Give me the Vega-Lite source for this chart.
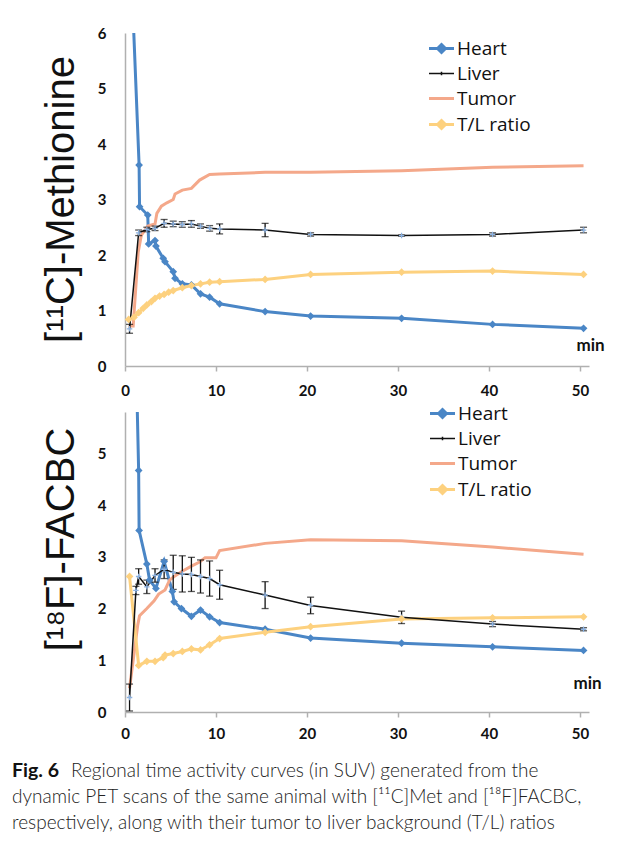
{
  "$schema": "https://vega.github.io/schema/vega-lite/v6.json",
  "autosize": {"type": "none"},
  "padding": {"left": 125, "top": 33, "right": 504, "bottom": 808},
  "background": "white",
  "spacing": 46,
  "bounds": "flush",
  "resolve": {"scale": {"color": "independent", "x": "independent", "y": "independent"}, "legend": {"color": "independent"}},
  "datasets": {
    "met": [
      {"s": "Heart", "t": 0.5, "v": 7.9}, {"s": "Heart", "t": 1.55, "v": 3.62}, {"s": "Heart", "t": 1.6, "v": 2.87}, {"s": "Heart", "t": 2.5, "v": 2.72}, {"s": "Heart", "t": 2.6, "v": 2.2}, {"s": "Heart", "t": 3.3, "v": 2.26}, {"s": "Heart", "t": 3.4, "v": 2.16}, {"s": "Heart", "t": 4.2, "v": 1.94}, {"s": "Heart", "t": 4.4, "v": 1.88}, {"s": "Heart", "t": 5.3, "v": 1.7}, {"s": "Heart", "t": 5.5, "v": 1.58}, {"s": "Heart", "t": 6.3, "v": 1.48}, {"s": "Heart", "t": 7.3, "v": 1.46}, {"s": "Heart", "t": 8.3, "v": 1.3}, {"s": "Heart", "t": 9.3, "v": 1.24}, {"s": "Heart", "t": 10.4, "v": 1.12}, {"s": "Heart", "t": 15.4, "v": 0.98}, {"s": "Heart", "t": 20.4, "v": 0.9}, {"s": "Heart", "t": 30.4, "v": 0.86}, {"s": "Heart", "t": 40.4, "v": 0.75}, {"s": "Heart", "t": 50.4, "v": 0.68},
      {"s": "Liver", "t": 0.5, "v": 0.67, "e": 0.08}, {"s": "Liver", "t": 1.5, "v": 2.4, "e": 0.05}, {"s": "Liver", "t": 2.4, "v": 2.46, "e": 0.04}, {"s": "Liver", "t": 3.3, "v": 2.48, "e": 0.04}, {"s": "Liver", "t": 4.3, "v": 2.57, "e": 0.07}, {"s": "Liver", "t": 5.3, "v": 2.56, "e": 0.05}, {"s": "Liver", "t": 6.3, "v": 2.55, "e": 0.05}, {"s": "Liver", "t": 7.3, "v": 2.56, "e": 0.06}, {"s": "Liver", "t": 8.3, "v": 2.52, "e": 0.04}, {"s": "Liver", "t": 9.3, "v": 2.48, "e": 0.05}, {"s": "Liver", "t": 10.4, "v": 2.47, "e": 0.09}, {"s": "Liver", "t": 15.4, "v": 2.45, "e": 0.12}, {"s": "Liver", "t": 20.4, "v": 2.37, "e": 0.03}, {"s": "Liver", "t": 30.4, "v": 2.35, "e": 0.01}, {"s": "Liver", "t": 40.4, "v": 2.37, "e": 0.03}, {"s": "Liver", "t": 50.4, "v": 2.45, "e": 0.05},
      {"s": "Tumor", "t": 0.4, "v": 0.72}, {"s": "Tumor", "t": 0.9, "v": 0.72}, {"s": "Tumor", "t": 1.45, "v": 2.05}, {"s": "Tumor", "t": 1.8, "v": 2.36}, {"s": "Tumor", "t": 2.5, "v": 2.52}, {"s": "Tumor", "t": 3.3, "v": 2.56}, {"s": "Tumor", "t": 3.5, "v": 2.75}, {"s": "Tumor", "t": 4.0, "v": 2.88}, {"s": "Tumor", "t": 4.6, "v": 2.94}, {"s": "Tumor", "t": 5.3, "v": 3.0}, {"s": "Tumor", "t": 5.5, "v": 3.1}, {"s": "Tumor", "t": 6.3, "v": 3.17}, {"s": "Tumor", "t": 7.3, "v": 3.2}, {"s": "Tumor", "t": 8.2, "v": 3.35}, {"s": "Tumor", "t": 9.3, "v": 3.45}, {"s": "Tumor", "t": 10.4, "v": 3.46}, {"s": "Tumor", "t": 15.4, "v": 3.49}, {"s": "Tumor", "t": 20.4, "v": 3.49}, {"s": "Tumor", "t": 30.4, "v": 3.52}, {"s": "Tumor", "t": 40.4, "v": 3.58}, {"s": "Tumor", "t": 50.4, "v": 3.61},
      {"s": "T/L ratio", "t": 0.4, "v": 0.84}, {"s": "T/L ratio", "t": 1.0, "v": 0.88}, {"s": "T/L ratio", "t": 1.5, "v": 0.96}, {"s": "T/L ratio", "t": 2.0, "v": 1.04}, {"s": "T/L ratio", "t": 2.4, "v": 1.1}, {"s": "T/L ratio", "t": 2.9, "v": 1.16}, {"s": "T/L ratio", "t": 3.3, "v": 1.22}, {"s": "T/L ratio", "t": 3.8, "v": 1.26}, {"s": "T/L ratio", "t": 4.3, "v": 1.29}, {"s": "T/L ratio", "t": 4.8, "v": 1.33}, {"s": "T/L ratio", "t": 5.3, "v": 1.36}, {"s": "T/L ratio", "t": 6.3, "v": 1.41}, {"s": "T/L ratio", "t": 7.3, "v": 1.45}, {"s": "T/L ratio", "t": 8.3, "v": 1.48}, {"s": "T/L ratio", "t": 9.3, "v": 1.51}, {"s": "T/L ratio", "t": 10.4, "v": 1.52}, {"s": "T/L ratio", "t": 15.4, "v": 1.56}, {"s": "T/L ratio", "t": 20.4, "v": 1.65}, {"s": "T/L ratio", "t": 30.4, "v": 1.69}, {"s": "T/L ratio", "t": 40.4, "v": 1.71}, {"s": "T/L ratio", "t": 50.4, "v": 1.65}
    ],
    "facbc": [
      {"s": "Heart", "t": 1.2, "v": 7.0}, {"s": "Heart", "t": 1.5, "v": 4.67}, {"s": "Heart", "t": 1.55, "v": 3.51}, {"s": "Heart", "t": 2.4, "v": 2.86}, {"s": "Heart", "t": 2.7, "v": 2.55}, {"s": "Heart", "t": 3.4, "v": 2.39}, {"s": "Heart", "t": 4.3, "v": 2.91}, {"s": "Heart", "t": 5.2, "v": 2.33}, {"s": "Heart", "t": 5.4, "v": 2.13}, {"s": "Heart", "t": 6.2, "v": 2.0}, {"s": "Heart", "t": 7.3, "v": 1.85}, {"s": "Heart", "t": 8.3, "v": 1.97}, {"s": "Heart", "t": 9.3, "v": 1.84}, {"s": "Heart", "t": 10.4, "v": 1.73}, {"s": "Heart", "t": 15.4, "v": 1.6}, {"s": "Heart", "t": 20.4, "v": 1.43}, {"s": "Heart", "t": 30.4, "v": 1.33}, {"s": "Heart", "t": 40.4, "v": 1.26}, {"s": "Heart", "t": 50.4, "v": 1.19},
      {"s": "Liver", "t": 0.5, "v": 0.28, "e": 0.26}, {"s": "Liver", "t": 1.2, "v": 2.35, "e": 0.08}, {"s": "Liver", "t": 1.5, "v": 2.62, "e": 0.15}, {"s": "Liver", "t": 2.4, "v": 2.42, "e": 0.13}, {"s": "Liver", "t": 3.3, "v": 2.64, "e": 0.13}, {"s": "Liver", "t": 4.3, "v": 2.76, "e": 0.18}, {"s": "Liver", "t": 5.3, "v": 2.7, "e": 0.33}, {"s": "Liver", "t": 6.3, "v": 2.67, "e": 0.35}, {"s": "Liver", "t": 7.3, "v": 2.66, "e": 0.33}, {"s": "Liver", "t": 8.3, "v": 2.62, "e": 0.32}, {"s": "Liver", "t": 9.3, "v": 2.58, "e": 0.34}, {"s": "Liver", "t": 10.4, "v": 2.46, "e": 0.28}, {"s": "Liver", "t": 15.4, "v": 2.26, "e": 0.26}, {"s": "Liver", "t": 20.4, "v": 2.06, "e": 0.16}, {"s": "Liver", "t": 30.4, "v": 1.83, "e": 0.12}, {"s": "Liver", "t": 40.4, "v": 1.7, "e": 0.05}, {"s": "Liver", "t": 50.4, "v": 1.6, "e": 0.03},
      {"s": "Tumor", "t": 0.5, "v": 0.46}, {"s": "Tumor", "t": 1.4, "v": 1.68}, {"s": "Tumor", "t": 1.6, "v": 1.86}, {"s": "Tumor", "t": 2.4, "v": 2.0}, {"s": "Tumor", "t": 3.2, "v": 2.15}, {"s": "Tumor", "t": 3.7, "v": 2.28}, {"s": "Tumor", "t": 4.4, "v": 2.36}, {"s": "Tumor", "t": 4.9, "v": 2.55}, {"s": "Tumor", "t": 5.4, "v": 2.62}, {"s": "Tumor", "t": 6.3, "v": 2.72}, {"s": "Tumor", "t": 7.3, "v": 2.82}, {"s": "Tumor", "t": 8.2, "v": 2.9}, {"s": "Tumor", "t": 8.8, "v": 2.98}, {"s": "Tumor", "t": 10.0, "v": 2.98}, {"s": "Tumor", "t": 10.4, "v": 3.12}, {"s": "Tumor", "t": 15.4, "v": 3.26}, {"s": "Tumor", "t": 20.4, "v": 3.33}, {"s": "Tumor", "t": 30.4, "v": 3.31}, {"s": "Tumor", "t": 40.4, "v": 3.19}, {"s": "Tumor", "t": 50.4, "v": 3.05},
      {"s": "T/L ratio", "t": 0.5, "v": 2.62}, {"s": "T/L ratio", "t": 1.5, "v": 0.9}, {"s": "T/L ratio", "t": 2.4, "v": 0.98}, {"s": "T/L ratio", "t": 3.3, "v": 0.98}, {"s": "T/L ratio", "t": 4.2, "v": 1.05}, {"s": "T/L ratio", "t": 4.4, "v": 1.1}, {"s": "T/L ratio", "t": 5.3, "v": 1.13}, {"s": "T/L ratio", "t": 6.3, "v": 1.17}, {"s": "T/L ratio", "t": 7.3, "v": 1.22}, {"s": "T/L ratio", "t": 8.3, "v": 1.2}, {"s": "T/L ratio", "t": 9.3, "v": 1.3}, {"s": "T/L ratio", "t": 10.4, "v": 1.42}, {"s": "T/L ratio", "t": 15.4, "v": 1.54}, {"s": "T/L ratio", "t": 20.4, "v": 1.65}, {"s": "T/L ratio", "t": 30.4, "v": 1.8}, {"s": "T/L ratio", "t": 40.4, "v": 1.82}, {"s": "T/L ratio", "t": 50.4, "v": 1.84}
    ],
    "caption": [
      {"line": 1, "part": "label", "txt": "Fig. 6"},
      {"line": 1, "part": "body", "txt": "Regional time activity curves (in SUV) generated from the"},
      {"line": 2, "part": "body", "txt": "dynamic PET scans of the same animal with [¹¹C]Met and [¹⁸F]FACBC,"},
      {"line": 3, "part": "body", "txt": "respectively, along with their tumor to liver background (T/L) ratios"}
    ]
  },
  "vconcat": [
    {
      "width": 464, "height": 333,
      "data": {"name": "met"},
      "encoding": {
        "x": {"field": "t", "type": "quantitative", "scale": {"domain": [0, 51], "nice": false},
          "axis": {"values": [0, 10, 20, 30, 40, 50], "tickSize": 5, "labelPadding": 12, "labelDx": 3, "labelFlush": false,
            "title": "min", "titleX": 465, "titleY": -21, "titleAlign": "center", "titleBaseline": "middle", "titleFont": "Lato", "titleFontSize": 17, "titleFontWeight": "bold", "titleColor": "#111"}},
        "y": {"field": "v", "type": "quantitative", "scale": {"domain": [0, 6], "nice": false},
          "axis": {"values": [0, 1, 2, 3, 4, 5, 6], "ticks": false, "tickSize": 0, "labelPadding": 19,
            "title": "[¹¹C]-Methionine", "titleX": -52, "titleY": 166, "titleAngle": 270, "titleAlign": "center", "titleBaseline": "alphabetic", "titleFont": "Liberation Sans", "titleFontSize": 40, "titleFontWeight": "normal", "titleColor": "#111"}}
      },
      "layer": [
        {
          "transform": [{"filter": "datum.s !== 'Liver'"}],
          "mark": {"type": "line", "strokeWidth": 3, "clip": true},
          "encoding": {
            "color": {"field": "s", "type": "nominal",
              "scale": {"domain": ["Heart", "Liver", "Tumor", "T/L ratio"], "range": ["#4a86c6", "#111111", "#f4a88a", "#fdd17f"]},
              "legend": {"orient": "none", "legendX": 307, "legendY": 6, "title": null, "symbolSize": 625, "symbolType": "M-1,0H1", "symbolStrokeWidth": 3,
                "labelFont": "Open Sans", "labelFontSize": 19, "labelColor": "#111", "labelOffset": 6, "rowPadding": 5,
                "encode": {"symbols": {"update": {
                  "shape": {"signal": "datum.value === 'Heart' || datum.value === 'T/L ratio' ? 'M-1,0H1M-0.32,0L0,-0.32L0.32,0L0,0.32Z' : (datum.value === 'Liver' ? 'M-1,0H1M0,-0.14V0.14' : 'M-1,0H1')"},
                  "fill": {"signal": "datum.value === 'Heart' ? '#4a86c6' : (datum.value === 'T/L ratio' ? '#fdd17f' : 'transparent')"},
                  "strokeWidth": {"signal": "datum.value === 'Liver' ? 1.5 : 3"}}}}}
            }
          }
        },
        {
          "transform": [{"filter": "datum.s === 'Liver'"}],
          "mark": {"type": "errorbar", "ticks": {"size": 7, "color": "#111", "thickness": 1.3}, "rule": {"color": "#111", "strokeWidth": 1.3}},
          "encoding": {"yError": {"field": "e"}}
        },
        {
          "transform": [{"filter": "datum.s === 'Liver'"}],
          "mark": {"type": "line", "strokeWidth": 1.5, "color": "#111"},
          "encoding": {}
        },
        {
          "transform": [{"filter": "datum.s === 'Liver'"}],
          "mark": {"type": "point", "shape": "M-1,0H1M0,-1V1", "size": 30, "filled": false, "strokeWidth": 1.3, "color": "#8db3e2", "opacity": 1},
          "encoding": {}
        },
        {
          "transform": [{"filter": "datum.s === 'Heart'"}],
          "mark": {"type": "point", "shape": "diamond", "size": 60, "filled": true, "color": "#4a86c6", "opacity": 1, "clip": true},
          "encoding": {}
        },
        {
          "transform": [{"filter": "datum.s === 'T/L ratio'"}],
          "mark": {"type": "point", "shape": "diamond", "size": 60, "filled": true, "color": "#fdd17f", "opacity": 1},
          "encoding": {}
        }
      ]
    },
    {
      "width": 464, "height": 300,
      "data": {"name": "facbc"},
      "encoding": {
        "x": {"field": "t", "type": "quantitative", "scale": {"domain": [0, 51], "nice": false},
          "axis": {"values": [0, 10, 20, 30, 40, 50], "tickSize": 5, "labelPadding": 9, "labelDx": 3, "labelFlush": false,
            "title": "min", "titleX": 462, "titleY": -29, "titleAlign": "center", "titleBaseline": "middle", "titleFont": "Lato", "titleFontSize": 17, "titleFontWeight": "bold", "titleColor": "#111"}},
        "y": {"field": "v", "type": "quantitative", "scale": {"domain": [0, 5.8], "nice": false, "zero": true},
          "axis": {"values": [0, 1, 2, 3, 4, 5], "ticks": false, "tickSize": 0, "labelPadding": 19,
            "title": "[¹⁸F]-FACBC", "titleX": -52, "titleY": 127, "titleAngle": 270, "titleAlign": "center", "titleBaseline": "alphabetic", "titleFont": "Liberation Sans", "titleFontSize": 40, "titleFontWeight": "normal", "titleColor": "#111"}}
      },
      "layer": [
        {
          "transform": [{"filter": "datum.s !== 'Liver'"}],
          "mark": {"type": "line", "strokeWidth": 3, "clip": true},
          "encoding": {
            "color": {"field": "s", "type": "nominal",
              "scale": {"domain": ["Heart", "Liver", "Tumor", "T/L ratio"], "range": ["#4a86c6", "#111111", "#f4a88a", "#fdd17f"]},
              "legend": {"orient": "none", "legendX": 308, "legendY": -8, "title": null, "symbolSize": 625, "symbolType": "M-1,0H1", "symbolStrokeWidth": 3,
                "labelFont": "Open Sans", "labelFontSize": 19, "labelColor": "#111", "labelOffset": 6, "rowPadding": 5,
                "encode": {"symbols": {"update": {
                  "shape": {"signal": "datum.value === 'Heart' || datum.value === 'T/L ratio' ? 'M-1,0H1M-0.32,0L0,-0.32L0.32,0L0,0.32Z' : (datum.value === 'Liver' ? 'M-1,0H1M0,-0.14V0.14' : 'M-1,0H1')"},
                  "fill": {"signal": "datum.value === 'Heart' ? '#4a86c6' : (datum.value === 'T/L ratio' ? '#fdd17f' : 'transparent')"},
                  "strokeWidth": {"signal": "datum.value === 'Liver' ? 1.5 : 3"}}}}}
            }
          }
        },
        {
          "transform": [{"filter": "datum.s === 'Liver'"}],
          "mark": {"type": "errorbar", "ticks": {"size": 7, "color": "#111", "thickness": 1.3}, "rule": {"color": "#111", "strokeWidth": 1.3}},
          "encoding": {"yError": {"field": "e"}}
        },
        {
          "transform": [{"filter": "datum.s === 'Liver'"}],
          "mark": {"type": "line", "strokeWidth": 1.5, "color": "#111"},
          "encoding": {}
        },
        {
          "transform": [{"filter": "datum.s === 'Liver'"}],
          "mark": {"type": "point", "shape": "M-1,0H1M0,-1V1", "size": 30, "filled": false, "strokeWidth": 1.3, "color": "#8db3e2", "opacity": 1},
          "encoding": {}
        },
        {
          "transform": [{"filter": "datum.s === 'Heart'"}],
          "mark": {"type": "point", "shape": "diamond", "size": 60, "filled": true, "color": "#4a86c6", "opacity": 1, "clip": true},
          "encoding": {}
        },
        {
          "transform": [{"filter": "datum.s === 'T/L ratio'"}],
          "mark": {"type": "point", "shape": "diamond", "size": 60, "filled": true, "color": "#fdd17f", "opacity": 1},
          "encoding": {}
        }
      ]
    },
    {
      "width": 464, "height": 78,
      "data": {"name": "caption"},
      "encoding": {
        "y": {"field": "line", "type": "ordinal", "axis": null, "scale": {"type": "point", "padding": 0.5}},
        "x": {"value": 0},
        "text": {"field": "txt"}
      },
      "layer": [
        {"transform": [{"filter": "datum.part === 'label'"}],
         "mark": {"type": "text", "align": "left", "baseline": "middle", "dx": -113, "font": "Lato", "fontWeight": "bold", "fontSize": 19.5, "color": "#111"}},
        {"transform": [{"filter": "datum.part === 'body' && datum.line === 1"}],
         "mark": {"type": "text", "align": "left", "baseline": "middle", "dx": -54, "font": "Lato", "fontWeight": 300, "fontSize": 19, "color": "#222"}},
        {"transform": [{"filter": "datum.line > 1"}],
         "mark": {"type": "text", "align": "left", "baseline": "middle", "dx": -113, "font": "Lato", "fontWeight": 300, "fontSize": 19, "color": "#222"}}
      ]
    }
  ],
  "config": {
    "view": {"stroke": null},
    "axis": {"grid": false, "domainColor": "#b0b0b0", "domainWidth": 1.5, "tickColor": "#b0b0b0", "tickWidth": 1.5,
      "labelFont": "Lato", "labelFontWeight": "bold", "labelFontSize": 15, "labelColor": "#111"}
  }
}
